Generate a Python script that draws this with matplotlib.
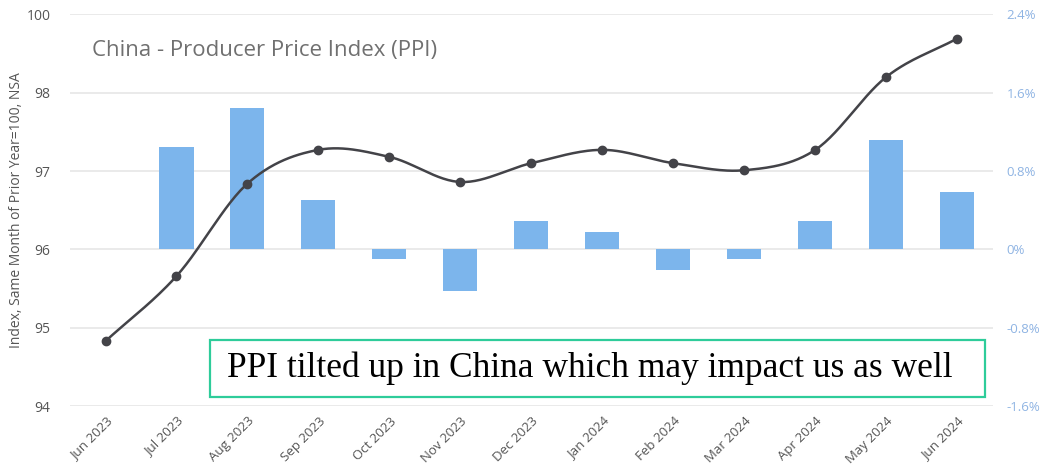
import numpy as np
import matplotlib
matplotlib.use('Agg')
import matplotlib.pyplot as plt
from matplotlib.patches import Rectangle

plt.rcParams['font.family'] = ['Open Sans', 'DejaVu Sans']

months = ["Jun 2023", "Jul 2023", "Aug 2023", "Sep 2023", "Oct 2023", "Nov 2023",
          "Dec 2023", "Jan 2024", "Feb 2024", "Mar 2024", "Apr 2024", "May 2024", "Jun 2024"]
# index, same month of prior year (left axis)
ppi_index = [94.83, 95.66, 96.84, 97.27, 97.18, 96.86, 97.10, 97.27, 97.10, 97.01, 97.27, 98.20, 98.69]
# month-on-month change in % (right axis)
ppi_mom = [0.0, 1.04, 1.44, 0.50, -0.10, -0.42, 0.29, 0.18, -0.21, -0.10, 0.29, 1.12, 0.59]

left_ticks = [94, 95, 96, 97, 98, 99]
left_labels = ["94", "95", "96", "97", "98", "100"]
right_ticks = [-1.6, -0.8, 0.0, 0.8, 1.6, 2.4]
right_labels = ["-1.6%", "-0.8%", "0%", "0.8%", "1.6%", "2.4%"]


def catmull_rom(x, y, n=30):
    # smooth curve through the points (for drawing only)
    x = np.asarray(x, float)
    y = np.asarray(y, float)
    px = np.concatenate([[2 * x[0] - x[1]], x, [2 * x[-1] - x[-2]]])
    py = np.concatenate([[2 * y[0] - y[1]], y, [2 * y[-1] - y[-2]]])
    xs, ys = [], []
    t = np.linspace(0, 1, n)
    for i in range(1, len(px) - 2):
        for arr, out in ((px, xs), (py, ys)):
            p0, p1, p2, p3 = arr[i - 1], arr[i], arr[i + 1], arr[i + 2]
            out.extend(0.5 * ((2 * p1) + (-p0 + p2) * t + (2 * p0 - 5 * p1 + 4 * p2 - p3) * t ** 2
                              + (-p0 + 3 * p1 - 3 * p2 + p3) * t ** 3))
    return np.array(xs), np.array(ys)


fig = plt.figure(figsize=(10.45, 4.74), dpi=100)
ax = fig.add_axes([0.067, 0.143, 0.883, 0.827])
ax2 = ax.twinx()
ax.set_zorder(ax2.get_zorder() + 1)
ax.patch.set_visible(False)

x = np.arange(len(months))

ax2.bar(x, ppi_mom, width=0.48, color="#7cb5ec", zorder=2)
ax2.set_ylim(-1.6, 2.4)
ax2.set_yticks(right_ticks)
ax2.set_yticklabels(right_labels, color="#8fb4e3", fontsize=9.5)
ax2.yaxis.grid(True, color="#e6e6e6", linewidth=1.2)
ax2.set_axisbelow(True)

sx, sy = catmull_rom(x, ppi_index)
ax.plot(sx, sy, color="#434348", linewidth=1.8, zorder=3)
ax.plot(x, ppi_index, linestyle="", marker="o", markersize=6, color="#434348", zorder=4)
ax.set_ylim(94, 99)
ax.set_yticks(left_ticks)
ax.set_yticklabels(left_labels, color="#555555", fontsize=10)
ax.set_xlim(-0.5, 12.5)
ax.set_xticks(x)
ax.set_xticklabels(months, rotation=45, ha="right", rotation_mode="anchor", color="#555555", fontsize=9.5)
ax.set_ylabel("Index, Same Month of Prior Year=100, NSA", color="#555555", fontsize=10)
ax.yaxis.set_label_coords(-0.05, 0.5)

for a in (ax, ax2):
    for s in a.spines.values():
        s.set_visible(False)
    a.tick_params(length=0)
ax.tick_params(axis="x", pad=6)
ax.tick_params(axis="y", pad=14)
ax2.tick_params(axis="y", pad=10)

fig.text(0.088, 0.893, "China - Producer Price Index (PPI)", fontsize=16,
         color="#707070", va="center")

fig.patches.append(Rectangle((210 / 1045, 1 - 397 / 474), 775 / 1045, 57 / 474,
                             transform=fig.transFigure, facecolor="white",
                             edgecolor="#2ecc9a", linewidth=1.6, zorder=9))
fig.text(227 / 1045, 1 - 368 / 474, "PPI tilted up in China which may impact us as well",
         fontsize=25.5, family="Liberation Serif", color="black", va="center", zorder=10)

plt.savefig("out.png", dpi=100)
